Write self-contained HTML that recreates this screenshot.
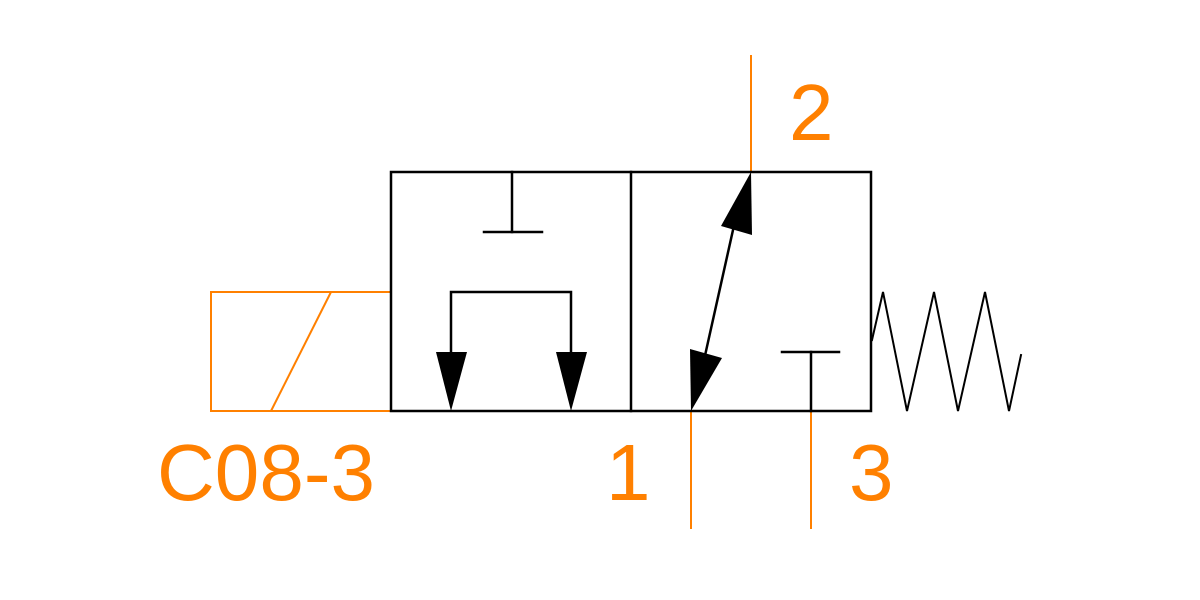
<!DOCTYPE html>
<html><head><meta charset="utf-8"><style>
html,body{margin:0;padding:0;background:#fff;width:1200px;height:600px;overflow:hidden}
svg{display:block}
text{font-family:"Liberation Sans",sans-serif;font-size:80px;fill:#ff8000}
</style></head><body>
<svg width="1200" height="600" viewBox="0 0 1200 600" xmlns="http://www.w3.org/2000/svg">
<g stroke="#ff8000" stroke-width="2" fill="none">
<line x1="751" y1="55" x2="751" y2="172"/>
<line x1="691" y1="411" x2="691" y2="529"/>
<line x1="811" y1="411" x2="811" y2="529"/>
<rect x="211" y="292" width="180" height="119"/>
<line x1="271" y1="411" x2="331" y2="292"/>
</g>
<g stroke="#000" stroke-width="2.5" fill="none" stroke-linecap="square">
<rect x="391" y="172" width="480" height="239"/>
<line x1="631" y1="172" x2="631" y2="411"/>
<line x1="512" y1="172" x2="512" y2="232"/>
<line x1="484" y1="232" x2="542" y2="232"/>
<polyline points="451,360 451,292 571,292 571,360"/>
<line x1="782" y1="352" x2="839" y2="352"/>
<line x1="811" y1="352" x2="811" y2="411"/>
<line x1="733" y1="230" x2="704" y2="360"/>
<polyline stroke-width="2" points="872,340 883,292 907,411 934,292 958,411 985,292 1009,411 1021,355"/>
</g>
<g fill="#000">
<polygon points="436,352 467,352 451,411"/>
<polygon points="556,352 587,352 571,411"/>
<polygon points="751,172 752,235 721,226"/>
<polygon points="691,411 690,349 722,358"/>
</g>
<text x="789" y="140">2</text>
<text x="606" y="500">1</text>
<text x="849" y="500">3</text>
<text x="157" y="500" textLength="218" lengthAdjust="spacingAndGlyphs">C08-3</text>
</svg>
</body></html>
